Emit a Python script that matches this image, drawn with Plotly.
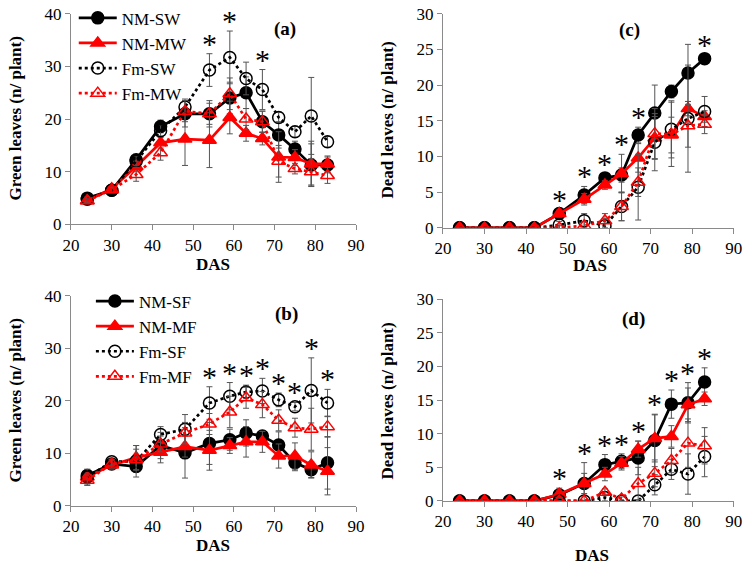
import plotly.graph_objects as go

DAS = [24, 30, 36, 42, 48, 54, 59, 63, 67, 71, 75, 79, 83]

# Panel (a) Green leaves, W
a_NM_SW = [5.0, 6.5, 12.3, 18.6, 21.0, 21.0, 24.0, 25.0, 19.5, 17.0, 14.3, 11.3, 11.3]
a_NM_MW = [4.5, 6.8, 11.0, 15.5, 16.2, 16.0, 20.3, 17.3, 16.3, 12.8, 12.7, 11.5, 11.5]
a_Fm_SW = [4.8, 6.5, 12.0, 17.8, 22.3, 29.3, 31.7, 27.7, 25.6, 20.3, 17.6, 20.6, 15.7]
a_Fm_MW = [4.5, 6.6, 9.5, 13.6, 21.5, 21.0, 24.8, 20.0, 19.5, 12.0, 10.6, 10.0, 9.3]
a_NM_SW_e = [0.5, 0.5, 1.0, 1.2, 2.5, 2.5, 3.0, 3.0, 2.0, 2.5, 1.5, 4.0, 1.5]
a_NM_MW_e = [0.4, 0.5, 1.0, 1.0, 5.0, 5.2, 3.1, 1.5, 1.2, 4.8, 1.5, 4.3, 1.5]
a_Fm_SW_e = [0.4, 0.5, 1.0, 1.0, 1.5, 3.1, 5.0, 3.1, 3.8, 1.0, 1.0, 7.3, 1.0]
a_Fm_MW_e = [0.4, 0.5, 1.3, 1.4, 2.0, 2.0, 3.0, 2.0, 2.0, 3.0, 1.0, 2.5, 1.5]
a_sig = [54, 59, 67]

# Panel (c) Dead leaves, W
c_NM_SW = [0, 0, 0, 0, 2.0, 4.6, 7.0, 7.4, 13.0, 16.1, 19.1, 21.7, 23.7]
c_NM_MW = [0, 0, 0, 0, 2.0, 4.0, 6.0, 7.6, 9.8, 12.6, 13.0, 16.7, 15.6]
c_Fm_SW = [0, 0, 0, 0, 0.4, 1.0, 0.3, 3.0, 5.7, 12.0, 13.8, 15.3, 16.3]
c_Fm_MW = [0, 0, 0, 0, 0.0, 0.3, 1.0, 3.0, 6.4, 13.2, 13.1, 14.3, 14.5]
c_NM_SW_e = [0, 0, 0, 0, 0.5, 1.2, 0.5, 1.0, 1.1, 3.9, 0.9, 4.0, 0.5]
c_NM_MW_e = [0, 0, 0, 0, 0.5, 0.8, 0.6, 2.7, 2.0, 3.0, 2.5, 1.0, 0.8]
c_Fm_SW_e = [0, 0, 0, 0, 0.5, 1.0, 1.0, 2.0, 4.6, 4.0, 4.0, 7.5, 2.1]
c_Fm_MW_e = [0, 0, 0, 0, 0.3, 0.6, 1.0, 2.0, 2.0, 3.5, 4.5, 3.0, 1.3]
c_sig = [48, 54, 59, 63, 67, 83]

# Panel (b) Green leaves, F
b_NM_SF = [5.8, 8.0, 7.5, 11.5, 10.1, 11.9, 12.6, 13.9, 13.3, 11.6, 8.2, 6.9, 8.2]
b_NM_MF = [5.5, 7.8, 9.2, 10.2, 11.3, 10.6, 11.5, 12.2, 12.2, 9.5, 9.5, 7.8, 6.6]
b_Fm_SF = [5.5, 8.4, 8.5, 13.6, 14.6, 19.6, 20.9, 21.7, 21.9, 20.2, 18.9, 22.0, 19.6]
b_Fm_MF = [4.9, 8.0, 8.8, 11.8, 13.9, 15.6, 17.9, 20.6, 19.3, 16.3, 14.9, 14.6, 15.1]
b_NM_SF_e = [1.0, 0.8, 1.0, 2.5, 4.8, 4.0, 2.0, 2.5, 1.0, 2.5, 1.5, 1.5, 5.0]
b_NM_MF_e = [1.5, 0.8, 2.3, 2.0, 2.0, 3.8, 1.5, 2.9, 2.0, 2.3, 2.5, 2.5, 4.5]
b_Fm_SF_e = [1.0, 0.5, 3.0, 1.5, 2.8, 3.1, 2.6, 1.3, 2.4, 1.3, 0.8, 6.2, 2.6]
b_Fm_MF_e = [1.0, 0.8, 2.0, 1.5, 2.0, 2.0, 3.0, 2.0, 2.5, 2.0, 1.8, 4.0, 2.0]
b_sig = [54, 59, 63, 67, 71, 75, 79, 83]

# Panel (d) Dead leaves, F
d_NM_SF = [0, 0, 0, 0, 0.9, 2.6, 5.4, 5.9, 6.4, 9.0, 14.4, 14.6, 17.7]
d_NM_MF = [0, 0, 0, 0, 1.0, 2.6, 4.0, 5.6, 7.7, 9.3, 9.6, 14.3, 15.2]
d_Fm_SF = [0, 0, 0, 0, 0.0, 0.0, 0.5, 0.0, 0.0, 2.4, 4.7, 4.0, 6.6]
d_Fm_MF = [0, 0, 0, 0, 0.0, 0.0, 1.3, 0.3, 2.6, 4.1, 6.0, 8.6, 8.2]
d_NM_SF_e = [0, 0, 0, 0, 1.0, 3.1, 1.5, 1.1, 2.5, 3.9, 2.1, 3.0, 2.1]
d_NM_MF_e = [0, 0, 0, 0, 0.6, 1.5, 1.0, 1.0, 1.2, 3.5, 1.6, 2.5, 1.0]
d_Fm_SF_e = [0, 0, 0, 0, 0, 0, 0.5, 0, 0, 1.5, 1.5, 3.0, 3.0]
d_Fm_MF_e = [0, 0, 0, 0, 0, 0, 0.5, 0.3, 2.4, 2.0, 1.8, 3.6, 2.7]
d_sig = [48, 54, 59, 63, 67, 71, 75, 79, 83]

FONT = "Liberation Serif"
RED = "#ff0000"
BLACK = "#000000"
ERR = "#555555"
W, H = 745, 565

styles = {
    "NM-S": dict(color=BLACK, symbol="circle", dash="solid"),
    "NM-M": dict(color=RED, symbol="triangle-up", dash="solid"),
    "Fm-S": dict(color=BLACK, symbol="circle-open", dash="dot"),
    "Fm-M": dict(color=RED, symbol="triangle-up-open", dash="dot"),
}

fig = go.Figure()


def add_series(key, name, y, e, ax, legend=None):
    st = styles[key]
    fig.add_trace(go.Scatter(
        x=DAS, y=y, name=name, mode="lines+markers",
        line=dict(color=st["color"], width=2.7, dash=st["dash"]),
        marker=dict(symbol=st["symbol"], size=12, color=st["color"],
                    line=dict(color=st["color"], width=1.5)),
        error_y=dict(type="data", array=e, color=ERR, thickness=1, width=3),
        xaxis="x" + ax, yaxis="y" + ax,
        showlegend=legend is not None,
        legend=legend if legend else "legend",
        legendgroup=name,
    ))


panels = [
    ("", [("NM-S", "NM-SW", a_NM_SW, a_NM_SW_e), ("NM-M", "NM-MW", a_NM_MW, a_NM_MW_e),
          ("Fm-S", "Fm-SW", a_Fm_SW, a_Fm_SW_e), ("Fm-M", "Fm-MW", a_Fm_MW, a_Fm_MW_e)], a_sig, "legend"),
    ("2", [("NM-S", "NM-SW", c_NM_SW, c_NM_SW_e), ("NM-M", "NM-MW", c_NM_MW, c_NM_MW_e),
           ("Fm-S", "Fm-SW", c_Fm_SW, c_Fm_SW_e), ("Fm-M", "Fm-MW", c_Fm_MW, c_Fm_MW_e)], c_sig, None),
    ("3", [("NM-S", "NM-SF", b_NM_SF, b_NM_SF_e), ("NM-M", "NM-MF", b_NM_MF, b_NM_MF_e),
           ("Fm-S", "Fm-SF", b_Fm_SF, b_Fm_SF_e), ("Fm-M", "Fm-MF", b_Fm_MF, b_Fm_MF_e)], b_sig, "legend2"),
    ("4", [("NM-S", "NM-SF", d_NM_SF, d_NM_SF_e), ("NM-M", "NM-MF", d_NM_MF, d_NM_MF_e),
           ("Fm-S", "Fm-SF", d_Fm_SF, d_Fm_SF_e), ("Fm-M", "Fm-MF", d_Fm_MF, d_Fm_MF_e)], d_sig, None),
]

annotations = []
for ax, series, sig, leg in panels:
    for key, name, y, e in series:
        add_series(key, name, y, e, ax, leg)
    xr = "x" + ax
    yr = "y" + ax
    for sx in sig:
        i = DAS.index(sx)
        top = max(s[2][i] + s[3][i] for s in series)
        annotations.append(dict(x=sx, y=top, xref=xr, yref=yr, text="*", showarrow=False,
                                xanchor="center", yanchor="bottom", yshift=-8,
                                font=dict(family=FONT, size=30, color=BLACK)))

labels = [("(a)", "x domain", "y domain", 0.75, 0.928),
          ("(c)", "x2 domain", "y2 domain", 0.643, 0.924),
          ("(b)", "x3 domain", "y3 domain", 0.757, 0.915),
          ("(d)", "x4 domain", "y4 domain", 0.656, 0.903)]
for t, xr, yr, xx, yy in labels:
    annotations.append(dict(x=xx, y=yy, xref=xr, yref=yr, text="<b>%s</b>" % t, showarrow=False,
                            xanchor="center", yanchor="middle",
                            font=dict(family=FONT, size=19, color=BLACK)))

# axis titles (pixel centres from the reference -> paper coords)
ytitles = [("Green leaves (n/ plant)", 16, 117), ("Dead leaves (n/ plant)", 388, 118),
           ("Green leaves (n/ plant)", 16, 400), ("Dead leaves (n/ plant)", 388, 400)]
for t, px, py in ytitles:
    annotations.append(dict(x=px / W, y=1 - py / H, xref="paper", yref="paper", text="<b>%s</b>" % t,
                            textangle=-90, showarrow=False, xanchor="center", yanchor="middle",
                            font=dict(family=FONT, size=17, color=BLACK)))
xtitles = [(213, 263), (590, 264), (213, 545), (592, 555)]
for px, py in xtitles:
    annotations.append(dict(x=px / W, y=1 - py / H, xref="paper", yref="paper", text="<b>DAS</b>",
                            showarrow=False, xanchor="center", yanchor="middle",
                            font=dict(family=FONT, size=17, color=BLACK)))

axis_common = dict(showgrid=False, zeroline=False, showline=True, linecolor="#8a8a8a", linewidth=1,
                   ticks="outside", tickcolor="#8a8a8a", ticklen=5, automargin=False,
                   tickfont=dict(family=FONT, size=17, color=BLACK))

def xax(domain, anchor):
    return dict(axis_common, domain=domain, anchor=anchor, range=[20, 90], dtick=10)

def yax(domain, anchor, rng, dt):
    return dict(axis_common, domain=domain, anchor=anchor, range=rng, dtick=dt)

xa = [0.0953, 0.4779]
xc = [0.5946, 0.9848]
ya = [0.6048, 0.9793]
yc = [0.5988, 0.9793]
yb = [0.105, 0.4779]
yd = [0.1138, 0.472]

legend_common = dict(font=dict(family=FONT, size=17, color=BLACK), bgcolor="rgba(0,0,0,0)",
                     xanchor="left", yanchor="top", tracegroupgap=0, itemwidth=38)

fig.update_layout(
    width=W, height=H,
    margin=dict(l=0, r=0, t=0, b=0),
    paper_bgcolor="white", plot_bgcolor="white",
    xaxis=xax(xa, "y"), yaxis=yax(ya, "x", [0, 40], 10),
    xaxis2=xax(xc, "y2"), yaxis2=yax(yc, "x2", [0, 30], 5),
    xaxis3=xax(xa, "y3"), yaxis3=yax(yb, "x3", [0, 40], 10),
    xaxis4=xax(xc, "y4"), yaxis4=yax(yd, "x4", [0, 30], 5),
    legend=dict(legend_common, x=0.099, y=1.003),
    legend2=dict(legend_common, x=0.122, y=0.5),
    annotations=annotations,
    showlegend=True,
)

fig.write_html("out.html", config={"displayModeBar": False},
               post_script="document.body.style.margin='0px';")
